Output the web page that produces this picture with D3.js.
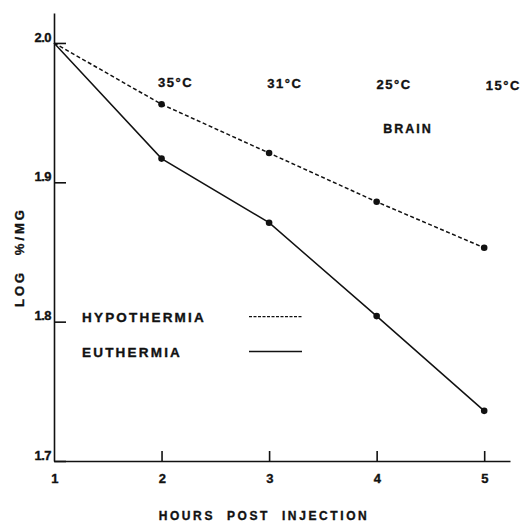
<!doctype html>
<html>
<head>
<meta charset="utf-8">
<title>Brain</title>
<style>
  body { margin: 0; background: #fff; }
  text { font-family: "Liberation Sans", Arial, sans-serif; font-weight: bold; fill: #111; stroke: #111; stroke-width: 0.35px; }
  .axis path, .axis line { stroke: #111; stroke-width: 1.6px; }
  .axis text { font-size: 13px; letter-spacing: -0.5px; }
</style>
<script src="https://cdn.jsdelivr.net/npm/d3@7"></script>
</head>
<body>
<svg width="523" height="523"></svg>
<script>
var hours = [1, 2, 3, 4, 5];
var hypothermia = [2.0, 1.956, 1.921, 1.886, 1.853];
var euthermia = [2.0, 1.917, 1.871, 1.804, 1.736];
var tempLabels = ["35°C", "31°C", "25°C", "15°C"];
var tempHours = [2, 3, 4, 5];
var yTicks = [1.7, 1.8, 1.9, 2.0];

var svg = d3.select("svg");

var x = d3.scaleLinear().domain([1, 5.24]).range([54, 510]);
var y = d3.scaleLinear().domain([1.7, 2.0215]).range([461, 13]);

svg.append("g")
    .attr("class", "axis")
    .attr("transform", "translate(0," + y(1.7) + ")")
    .call(d3.axisBottom(x).tickValues(hours).tickSize(-10).tickSizeOuter(0).tickPadding(13).tickFormat(d3.format("d")))
    .selectAll(".tick line").filter(function(d) { return d === 1; }).remove();

var yAxis = svg.append("g")
    .attr("class", "axis")
    .attr("transform", "translate(" + x(1) + ",0)")
    .call(d3.axisLeft(y).tickValues(yTicks).tickSize(-12).tickSizeOuter(0).tickPadding(3).tickFormat(d3.format(".1f")));
yAxis.selectAll(".tick text").attr("dy", "-0.15em");

var line = d3.line()
    .x(function(d, i) { return x(hours[i]); })
    .y(function(d) { return y(d); });

svg.append("path")
    .datum(hypothermia)
    .attr("d", line)
    .attr("fill", "none")
    .attr("stroke", "#111")
    .attr("stroke-width", 1.5)
    .attr("stroke-dasharray", "4,2.5");

svg.append("path")
    .datum(euthermia)
    .attr("d", line)
    .attr("fill", "none")
    .attr("stroke", "#111")
    .attr("stroke-width", 1.5);

[hypothermia, euthermia].forEach(function(series) {
    svg.append("g").selectAll("circle")
        .data(series.slice(1))
        .enter().append("circle")
        .attr("cx", function(d, i) { return x(hours[i + 1]); })
        .attr("cy", function(d) { return y(d); })
        .attr("r", 3.3)
        .attr("fill", "#111");
});

svg.append("g").selectAll("text")
    .data(tempLabels)
    .enter().append("text")
    .attr("x", function(d, i) { return x(tempHours[i]) + 14 + i * 1.7; })
    .attr("y", function(d, i) { return 87 + i; })
    .attr("text-anchor", "middle")
    .attr("font-size", 13)
    .attr("letter-spacing", 1.5)
    .text(function(d) { return d; });

svg.append("text")
    .attr("x", 408).attr("y", 133)
    .attr("text-anchor", "middle")
    .attr("font-size", 12.5)
    .attr("letter-spacing", 2)
    .text("BRAIN");

// legend
var legend = [
    { name: "HYPOTHERMIA", dash: "3,1.5", y: 1.8 },
    { name: "EUTHERMIA", dash: null, y: 1.775 }
];
legend.forEach(function(l) {
    svg.append("text")
        .attr("x", 82).attr("y", y(l.y) + 0.5)
        .attr("font-size", 13.5)
        .attr("letter-spacing", 2.2)
        .text(l.name);
    svg.append("line")
        .attr("x1", 249).attr("x2", 302)
        .attr("y1", y(l.y) - 5).attr("y2", y(l.y) - 5)
        .attr("stroke", "#111")
        .attr("stroke-width", 1.3)
        .attr("stroke-dasharray", l.dash);
});

svg.append("text")
    .attr("x", 264).attr("y", 520)
    .attr("text-anchor", "middle")
    .attr("font-size", 12)
    .attr("letter-spacing", 2.6)
    .attr("word-spacing", 6)
    .text("HOURS POST INJECTION");

svg.append("text")
    .attr("transform", "translate(24,257) rotate(-90)")
    .attr("text-anchor", "middle")
    .attr("font-size", 13)
    .attr("letter-spacing", 3)
    .attr("word-spacing", 8)
    .text("LOG %/MG");
</script>
</body>
</html>
